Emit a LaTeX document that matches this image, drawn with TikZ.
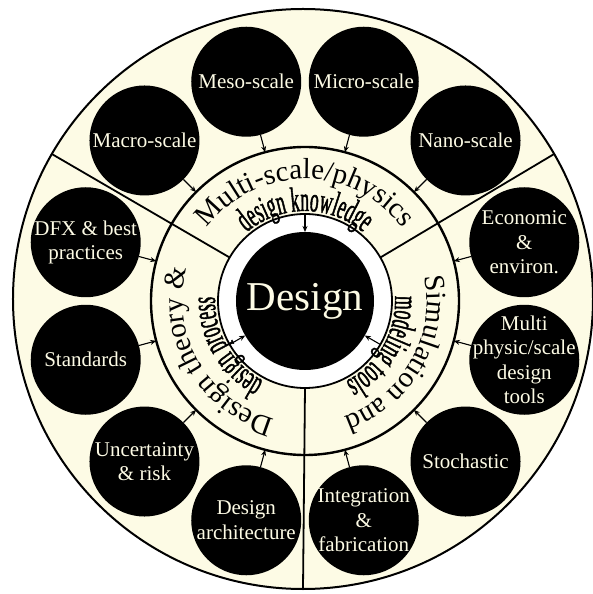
\documentclass[tikz,border=0pt]{standalone}
\usepackage{fontspec}
\setmainfont{Liberation Serif}
\newfontfamily\condfont[FakeStretch=0.5,FakeBold=1.2]{Liberation Serif}
\usetikzlibrary{arrows.meta}
\usetikzlibrary{decorations.text}
\usetikzlibrary{backgrounds}
\definecolor{cream}{RGB}{253,251,229}

\begin{document}
\begin{tikzpicture}[
  x=1pt, y=1pt,
  disc/.style={circle, inner sep=0pt, outer sep=0pt},
  topic/.style={disc, fill=black, minimum size=110pt},
  topictext/.style={text=cream, align=center, inner sep=0pt,
    font=\fontsize{21}{24.5}\selectfont},
  arr/.style={-{Stealth[length=6pt,width=5pt]}, line width=1.1pt},
  divider/.style={line width=1.8pt},
  ringtext/.style={decorate, decoration={text along path, text align=center, text={#1}}},
]
\useasboundingbox (-305,-293) rectangle (287,301);

\node (ring) [disc, draw, line width=2.4pt, minimum size=308pt] at (0,0) {};
\node (inner) [disc, draw, fill=white, line width=1.8pt, minimum size=174pt] at (0,0) {};
\node (core) [disc, fill=black, text=cream, minimum size=138pt,
  font=\fontsize{41}{41}\selectfont] at (0,0) {Design};

\begin{scope}[on background layer]
  \node (outer) [disc, draw, fill=cream, line width=2pt, minimum size=580pt] at (-2,2) {};
  \foreach \a in {30,150,270} {
    \draw[divider] (inner.\a) -- (outer.\a);
  }
\end{scope}

% ring titles
\path[ringtext={|\fontsize{29}{29}\selectfont|Multi-scale/physics}]
  (150:122) arc[start angle=150, end angle=30, radius=122];
\path[ringtext={|\fontsize{29}{29}\selectfont|Simulation and}]
  (30:122) arc[start angle=30, end angle=-90, radius=122];
\path[ringtext={|\fontsize{29}{29}\selectfont|Design theory {\&}}]
  (270:122) arc[start angle=270, end angle=150, radius=122];

\path[ringtext={|\condfont\fontsize{35}{35}\selectfont|design knowledge}]
  (150:90) arc[start angle=150, end angle=30, radius=90];
\path[ringtext={|\condfont\fontsize{35}{35}\selectfont|modeling tools}]
  (30:90) arc[start angle=30, end angle=-90, radius=90];
\path[ringtext={|\condfont\fontsize{35}{35}\selectfont|design process}]
  (270:90) arc[start angle=270, end angle=150, radius=90];

% topics round the ring
\foreach \lbl [count=\i, evaluate={\ang=135-30*(\i-1)}] in
  {Macro-scale, Meso-scale, Micro-scale, Nano-scale,
   {Economic\\\&\\environ.}, {Multi\\physic/scale\\design\\tools},
   Stochastic, {Integration\\\&\\fabrication}, {Design\\architecture},
   {Uncertainty\\\& risk}, Standards, {DFX \& best\\practices}} {
  \node (t\i) [topic, label={[topictext]center:\lbl}] at (\ang:227) {};
  \draw[arr] (t\i) -- (ring);
}

\foreach \a in {90,210,330} {
  \draw[arr] (inner.\a) -- (core);
}
\end{tikzpicture}
\end{document}
